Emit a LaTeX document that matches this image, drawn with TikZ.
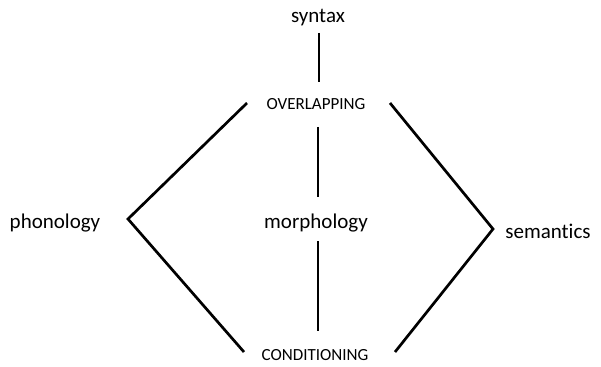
\documentclass[tikz,border=0pt]{standalone}
\usepackage{fontspec}
\setmainfont[Ligatures={NoCommon,NoRare,NoContextual},RawFeature={-liga;-dlig;-clig}]{Carlito}
\begin{document}
\begin{tikzpicture}[x=1pt,y=-1pt,
  big/.style={font=\fontsize{21}{25}\selectfont, inner sep=0pt, anchor=base},
  small/.style={font=\fontsize{17}{20}\selectfont, inner sep=0pt, anchor=base},
  ln/.style={line width=2.7pt}]
\useasboundingbox (0,0) rectangle (601,366);
\node[big] (syn) at (318,23) {syntax};
\node[small] (ovl) at (316,110) {OVERLAPPING};
\node[big] (pho) at (55,228) {phonology};
\node[big] (mor) at (316,228) {morphology};
\node[big] (sem) at (548,238) {semantics};
\node[small] (con) at (315,360) {CONDITIONING};
\coordinate (t1) at (319,33);
\coordinate (t2) at (319,82);
\coordinate (m1) at (318,127);
\coordinate (m2) at (318,197);
\coordinate (m3) at (318,241);
\coordinate (m4) at (318,331);
\coordinate (la) at (247,103);
\coordinate (lb) at (128,219);
\coordinate (lc) at (244,352);
\coordinate (ra) at (390,103);
\coordinate (rb) at (493,229);
\coordinate (rc) at (395,352);
\draw[ln] (t1) -- (t2);
\draw[ln] (m1) -- (m2);
\draw[ln] (m3) -- (m4);
\draw[ln] (la) -- (lb) -- (lc);
\draw[ln] (ra) -- (rb) -- (rc);
\end{tikzpicture}
\end{document}
